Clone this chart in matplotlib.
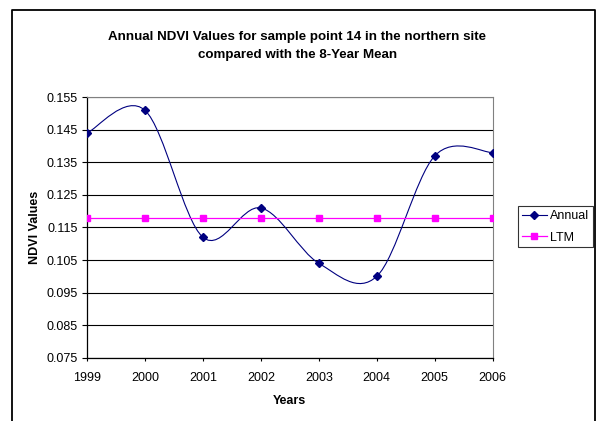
import matplotlib
matplotlib.use("Agg")
import matplotlib.pyplot as plt
from matplotlib.path import Path
from matplotlib.patches import PathPatch
from matplotlib.lines import Line2D

plt.rcParams['font.family'] = ['Liberation Sans', 'DejaVu Sans']

years = [1999, 2000, 2001, 2002, 2003, 2004, 2005, 2006]
annual = [0.144, 0.151, 0.112, 0.121, 0.104, 0.100, 0.137, 0.138]
ltm = [0.118] * len(years)
yticks = [0.075, 0.085, 0.095, 0.105, 0.115, 0.125, 0.135, 0.145, 0.155]


def smooth_path(xs, ys):
    # Excel-like smoothed line: cubic bezier through points (Catmull-Rom controls)
    pts = list(zip(xs, ys))
    verts = [pts[0]]
    codes = [Path.MOVETO]
    n = len(pts)
    for i in range(n - 1):
        p0 = pts[i - 1] if i > 0 else pts[i]
        p1 = pts[i]
        p2 = pts[i + 1]
        p3 = pts[i + 2] if i + 2 < n else pts[i + 1]
        c1 = (p1[0] + (p2[0] - p0[0]) / 6, p1[1] + (p2[1] - p0[1]) / 6)
        c2 = (p2[0] - (p3[0] - p1[0]) / 6, p2[1] - (p3[1] - p1[1]) / 6)
        verts += [c1, c2, p2]
        codes += [Path.CURVE4] * 3
    return Path(verts, codes)


fig = plt.figure(figsize=(5.98, 4.21), dpi=100)
ax = fig.add_axes([0.1455, 0.1504, 0.6784, 0.6185])

navy = '#000080'
magenta = '#FF00FF'

ax.add_patch(PathPatch(smooth_path(years, annual), fill=False, edgecolor=navy,
                       lw=0.8, zorder=3))
ax.plot(years, annual, linestyle='none', marker='D', color=navy, markersize=4.5, zorder=4)
ax.plot(years, ltm, color=magenta, lw=0.9, marker='s', markersize=4.5, zorder=3)

ax.set_xlim(1999, 2006)
ax.set_ylim(0.075, 0.155)
ax.set_xticks(years)
ax.set_yticks(yticks)
ax.set_yticklabels([f'{v:.3f}' for v in yticks])
ax.grid(axis='y', color='black', lw=0.8)
ax.set_axisbelow(True)

for s in ['top', 'right']:
    ax.spines[s].set_color('#808080')
    ax.spines[s].set_linewidth(0.8)
for s in ['left', 'bottom']:
    ax.spines[s].set_color('black')
    ax.spines[s].set_linewidth(0.9)

ax.tick_params(axis='y', direction='out', length=3.5, width=0.8, labelsize=9, pad=3)
ax.tick_params(axis='x', direction='out', length=2.5, width=0.8, labelsize=9, pad=8)

ax.set_xlabel('Years', fontsize=9, fontweight='bold', labelpad=8)
ax.set_ylabel('NDVI Values', fontsize=9, fontweight='bold', labelpad=4)

fig.text(0.497, 0.89, 'Annual NDVI Values for sample point 14 in the northern site\ncompared with the 8-Year Mean',
         ha='center', va='center', fontsize=9.6, fontweight='bold', linespacing=1.7)

handles = [Line2D([], [], color=navy, marker='D', markersize=4.5, lw=0.8),
           Line2D([], [], color=magenta, marker='s', markersize=4.5, lw=0.9)]
leg = fig.legend(handles, ['Annual', 'LTM'], loc='center left',
                 bbox_to_anchor=(0.866, 0.461), fontsize=9, frameon=True,
                 fancybox=False, edgecolor='black', handlelength=2.0,
                 handletextpad=0.25, borderpad=0.3, labelspacing=0.75,
                 borderaxespad=0, handleheight=0.6)
leg.get_frame().set_linewidth(0.8)

# outer chart border (bottom edge is cut off in the original)
fig.add_artist(Line2D([0.0201, 0.0201, 0.995, 0.995], [-0.01, 0.976, 0.976, -0.01],
                      transform=fig.transFigure, color='black', lw=1.3))

fig.savefig('out.png', dpi=100)
